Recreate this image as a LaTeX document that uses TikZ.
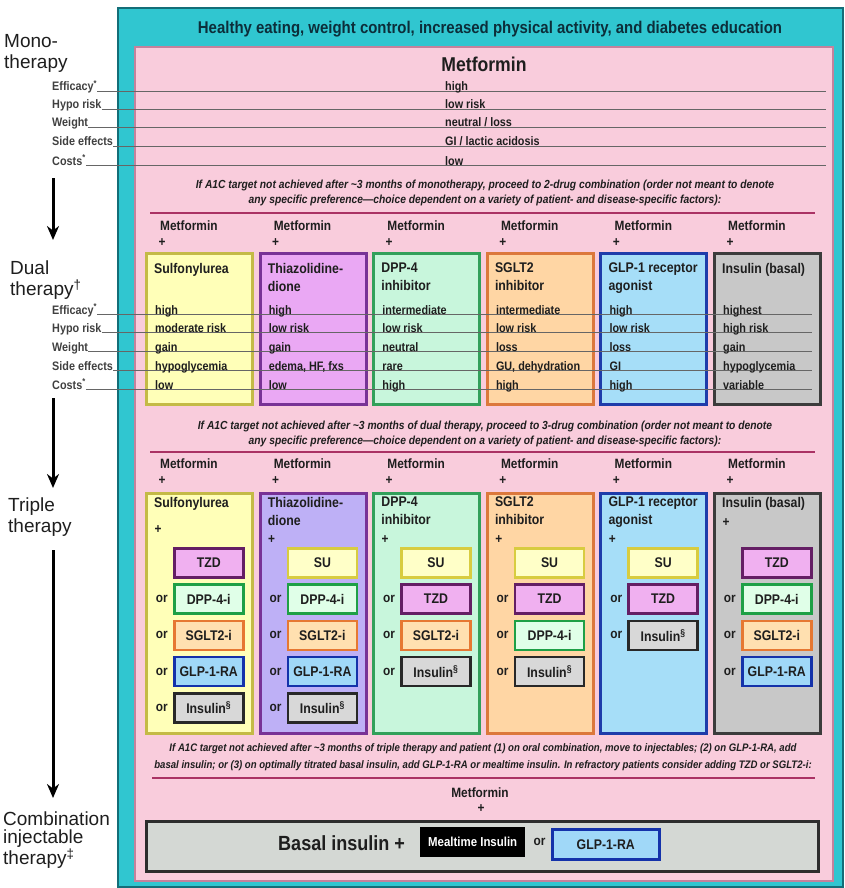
\documentclass[tikz,border=0pt]{standalone}
\usepackage{fontspec}
\setmainfont{Liberation Sans}[FakeStretch=0.88]
\newfontfamily\stagefont{Liberation Sans}
\usetikzlibrary{arrows.meta,positioning}

\definecolor{tealbg}{RGB}{48,198,208}
\definecolor{tealedge}{RGB}{20,110,120}
\definecolor{pinkbg}{RGB}{249,204,220}
\definecolor{pinkedge}{RGB}{196,130,156}
\definecolor{divcol}{RGB}{170,50,100}
\definecolor{ink}{RGB}{30,30,30}
\definecolor{headink}{RGB}{12,46,58}
% dual / triple column colours
\definecolor{suF}{RGB}{255,255,184}\definecolor{suD}{RGB}{196,186,70}
\definecolor{tzF}{RGB}{234,168,244}\definecolor{tzD}{RGB}{120,50,150}
\definecolor{tzT}{RGB}{190,176,246}
\definecolor{dpF}{RGB}{200,246,220}\definecolor{dpD}{RGB}{50,160,90}
\definecolor{sgF}{RGB}{255,214,164}\definecolor{sgD}{RGB}{220,120,60}
\definecolor{glF}{RGB}{166,222,248}\definecolor{glD}{RGB}{30,60,170}
\definecolor{inF}{RGB}{200,200,200}\definecolor{inD}{RGB}{60,60,60}
% add-on drug boxes
\definecolor{suS}{RGB}{255,255,200}\definecolor{suSD}{RGB}{216,204,64}
\definecolor{tzS}{RGB}{240,176,240}\definecolor{tzSD}{RGB}{100,30,100}
\definecolor{dpS}{RGB}{224,255,232}\definecolor{dpSD}{RGB}{30,160,70}
\definecolor{sgS}{RGB}{255,224,176}\definecolor{sgSD}{RGB}{230,120,50}
\definecolor{glS}{RGB}{160,216,248}\definecolor{glSD}{RGB}{20,50,170}
\definecolor{inS}{RGB}{216,216,216}\definecolor{inSD}{RGB}{40,40,40}

\tikzstyle{outerframe} = [draw=tealedge,line width=2.5pt,fill=tealbg]
\tikzstyle{panel} = [draw=pinkedge,line width=2.5pt,fill=pinkbg]
\tikzstyle{divider} = [draw=divcol,line width=2.5pt]
\tikzstyle{rowline} = [draw=black!60,line width=0.7pt]
\tikzstyle{flow} = [draw=black,line width=3pt,-{Stealth[length=14pt,width=12pt]}]
\tikzstyle{stage} = [font=\stagefont\fontsize{19}{21}\selectfont,text=ink,align=left,anchor=north west,inner sep=0]
\tikzstyle{rowlabel} = [font=\fontsize{12.3}{14}\selectfont\bfseries,text=ink!85,anchor=base west,inner sep=0]
\tikzstyle{entry} = [font=\fontsize{12.3}{14}\selectfont\bfseries,text=ink,anchor=base west,inner sep=0]
\tikzstyle{metlabel} = [font=\fontsize{13.5}{15}\selectfont\bfseries,text=ink,anchor=base west,inner sep=0]
\tikzstyle{plussign} = [font=\fontsize{13.5}{15}\selectfont\bfseries,text=ink,inner sep=0]
\tikzstyle{drugname} = [font=\fontsize{14}{18}\selectfont\bfseries,text=ink,align=left,anchor=north west,inner sep=0]
\tikzstyle{note} = [font=\fontsize{11.7}{15}\selectfont\bfseries\itshape,text=ink,align=center,inner sep=0]
\tikzstyle{drugbox} = [anchor=north west,minimum width=106pt,inner sep=0,line width=3pt]
\tikzstyle{addbox} = [anchor=north west,minimum width=69pt,minimum height=29pt,inner sep=0,line width=2.5pt,font=\fontsize{14}{16}\selectfont\bfseries,text=ink]
\tikzstyle{ortext} = [font=\fontsize{13.5}{15}\selectfont\bfseries,text=ink,inner sep=0]
\tikzstyle{su} = [fill=suS,draw=suSD]
\tikzstyle{tzd} = [fill=tzS,draw=tzSD]
\tikzstyle{dpp} = [fill=dpS,draw=dpSD]
\tikzstyle{sglt} = [fill=sgS,draw=sgSD]
\tikzstyle{glp} = [fill=glS,draw=glSD]
\tikzstyle{ins} = [fill=inS,draw=inSD]
\def \xo {145}
\def \pitch {113.6}

\begin{document}
\begin{tikzpicture}[x=1pt,y=-1pt]
  \useasboundingbox (0,0) rectangle (845,888);
  \draw[outerframe] (118,8) rectangle (843,887);
  \draw[panel] (135,47) rectangle (833,881);
  \node[font=\fontsize{17}{19}\selectfont\bfseries,text=headink] (head) at (490,29)
    {Healthy eating, weight control, increased physical activity, and diabetes education};

  % monotherapy
  \node[stage] (mono) at (4,34) {Mono-\\therapy};
  \node[font=\fontsize{20}{22}\selectfont\bfseries,text=ink] (met) at (484,64) {Metformin};
  \coordinate (mend) at (826,0);
  \node[rowlabel] (m1) at (52,91) {Efficacy\textsuperscript{*}};
  \node[rowlabel] (m2) at (52,109) {Hypo risk};
  \node[rowlabel] (m3) at (52,127) {Weight};
  \node[rowlabel] (m4) at (52,146) {Side effects};
  \node[rowlabel] (m5) at (52,165) {Costs\textsuperscript{*}};
  \foreach \r in {1,...,5}
    \draw[rowline] (m\r.base east) -- (m\r.base east -| mend);
  \node[entry] (mv1) at (445,91) {high};
  \node[entry] (mv2) at (445,109) {low risk};
  \node[entry] (mv3) at (445,127) {neutral / loss};
  \node[entry] (mv4) at (445,146) {GI / lactic acidosis};
  \node[entry] (mv5) at (445,165) {low};
  \node[note] (note1) at (485,193) {If A1C target not achieved after \textasciitilde 3 months of monotherapy, proceed to 2-drug combination (order not meant to denote\\any specific preference---choice dependent on a variety of patient- and disease-specific factors):};
  \draw[divider] (150,213) -- (815,213);

  % dual therapy
  \node[stage] (dual) at (10,261) {Dual\\therapy\textsuperscript{†}};
  \foreach \col/\fc/\dc in {1/suF/suD,2/tzF/tzD,3/dpF/dpD,4/sgF/sgD,5/glF/glD,6/inF/inD}{
    \pgfmathsetmacro\xl{\xo+(\col-1)*\pitch}
    \node[metlabel] (dm\col) at (\xl+15,230) {Metformin};
    \node[plussign] (dp\col) at (\xl+17,243) {+};
    \node[drugbox,minimum height=151pt,fill=\fc,draw=\dc] (d\col) at (\xl,252) {};
  }
  \coordinate (dend) at (812,0);
  \foreach \r/\lab/\y in {1/Efficacy\textsuperscript{*}/314,2/Hypo risk/332,3/Weight/351,4/Side effects/370,5/Costs\textsuperscript{*}/389}{
    \node[rowlabel] (dr\r) at (52,\y) {\lab};
    \draw[rowline] (dr\r.base east) -- (dr\r.base east -| dend);
  }
  \foreach \col/\name in {1/Sulfonylurea,2/{Thiazolidine-\\dione},3/{DPP-4\\inhibitor},4/{SGLT2\\inhibitor},5/{GLP-1 receptor\\agonist},6/{Insulin (basal)}}{
    \pgfmathsetmacro\xl{\xo+(\col-1)*\pitch}
    \node[drugname] (dn\col) at (\xl+9,263) {\name};
  }
  \foreach \col/\ve/\vh/\vw/\vs/\vc in {
      1/high/moderate risk/gain/hypoglycemia/low,
      2/high/low risk/gain/{edema, HF, fxs}/low,
      3/intermediate/low risk/neutral/rare/high,
      4/intermediate/low risk/loss/{GU, dehydration}/high,
      5/high/low risk/loss/GI/high,
      6/highest/high risk/gain/hypoglycemia/variable}{
    \pgfmathsetmacro\xl{\xo+(\col-1)*\pitch+10}
    \node[entry] (de\col) at (\xl,314) {\ve};
    \node[entry] (dh\col) at (\xl,332) {\vh};
    \node[entry] (dw\col) at (\xl,351) {\vw};
    \node[entry] (ds\col) at (\xl,370) {\vs};
    \node[entry] (dc\col) at (\xl,389) {\vc};
  }
  \node[note] (note2) at (485,434) {If A1C target not achieved after \textasciitilde 3 months of dual therapy, proceed to 3-drug combination (order not meant to denote\\any specific preference---choice dependent on a variety of patient- and disease-specific factors):};
  \draw[divider] (150,452) -- (815,452);

  % triple therapy
  \node[stage] (triple) at (8,498) {Triple\\therapy};
  \foreach \col/\fc/\dc/\py in {1/suF/suD/530,2/tzT/tzD/540,3/dpF/dpD/540,4/sgF/sgD/540,5/glF/glD/540,6/inF/inD/523}{
    \pgfmathsetmacro\xl{\xo+(\col-1)*\pitch}
    \node[metlabel] (tm\col) at (\xl+15,468) {Metformin};
    \node[plussign] (tp\col) at (\xl+17,481) {+};
    \node[drugbox,minimum height=240pt,fill=\fc,draw=\dc] (t\col) at (\xl,492) {};
    \node[plussign] (tq\col) at (\xl+13,\py) {+};
  }
  \foreach \col/\name in {1/Sulfonylurea,2/{Thiazolidine-\\dione},3/{DPP-4\\inhibitor},4/{SGLT2\\inhibitor},5/{GLP-1 receptor\\agonist},6/{Insulin (basal)}}{
    \pgfmathsetmacro\xl{\xo+(\col-1)*\pitch}
    \node[drugname] (tn\col) at (\xl+9,497) {\name};
  }
  \foreach \col/\k/\sty/\txt in {
      1/1/tzd/TZD,1/2/dpp/DPP-4-i,1/3/sglt/SGLT2-i,1/4/glp/GLP-1-RA,1/5/ins/Insulin\textsuperscript{§},
      2/1/su/SU,2/2/dpp/DPP-4-i,2/3/sglt/SGLT2-i,2/4/glp/GLP-1-RA,2/5/ins/Insulin\textsuperscript{§},
      3/1/su/SU,3/2/tzd/TZD,3/3/sglt/SGLT2-i,3/4/ins/Insulin\textsuperscript{§},
      4/1/su/SU,4/2/tzd/TZD,4/3/dpp/DPP-4-i,4/4/ins/Insulin\textsuperscript{§},
      5/1/su/SU,5/2/tzd/TZD,5/3/ins/Insulin\textsuperscript{§},
      6/1/tzd/TZD,6/2/dpp/DPP-4-i,6/3/sglt/SGLT2-i,6/4/glp/GLP-1-RA}{
    \node[addbox,\sty] (s\col\k) at ({\xo+(\col-1)*\pitch+28},{547+(\k-1)*36.3}) {\txt};
    \ifnum\k>1 \node[ortext,left=5pt of s\col\k] (o\col\k) {or}; \fi
  }
  \node[note,font=\fontsize{10.9}{17}\selectfont\bfseries\itshape] (note3) at (483,757) {If A1C target not achieved after \textasciitilde 3 months of triple therapy and patient (1) on oral combination, move to injectables; (2) on GLP-1-RA, add\\basal insulin; or (3) on optimally titrated basal insulin, add GLP-1-RA or mealtime insulin. In refractory patients consider adding TZD or SGLT2-i:};
  \draw[divider] (152,778) -- (815,778);

  % combination injectable therapy
  \node[stage,font=\stagefont\fontsize{19}{18}\selectfont] (combo) at (3,812) {Combination\\injectable\\therapy\textsuperscript{‡}};
  \node[metlabel,anchor=base] (bm) at (480,797) {Metformin};
  \node[plussign] (bp) at (481,809) {+};
  \node[anchor=north west,minimum width=672pt,minimum height=50pt,inner sep=0,line width=3pt,
        fill={rgb,255:red,212;green,216;blue,212},draw={rgb,255:red,45;green,45;blue,45}] (basal) at (145,820) {};
  \node[font=\fontsize{20.5}{22}\selectfont\bfseries,text=ink,anchor=base west,inner sep=0] (bi) at (278,850) {Basal insulin +};
  \node[anchor=north west,minimum width=105pt,minimum height=30pt,inner sep=0,fill=black,
        text=white,font=\fontsize{13}{15}\selectfont\bfseries] (meal) at (420,827) {Mealtime Insulin};
  \node[ortext,right=8pt of meal] (bor) {or};
  \node[addbox,glp,minimum width=107pt,minimum height=30pt] (bglp) at (551,828) {GLP-1-RA};

  % stage arrows
  \coordinate (go1) at (53,178);
  \coordinate (to1) at (53,240);
  \coordinate (go2) at (53,398);
  \coordinate (to2) at (53,488);
  \coordinate (go3) at (53,550);
  \coordinate (to3) at (53,798);
  \draw[flow] (go1) -- (to1);
  \draw[flow] (go2) -- (to2);
  \draw[flow] (go3) -- (to3);
\end{tikzpicture}
\end{document}
